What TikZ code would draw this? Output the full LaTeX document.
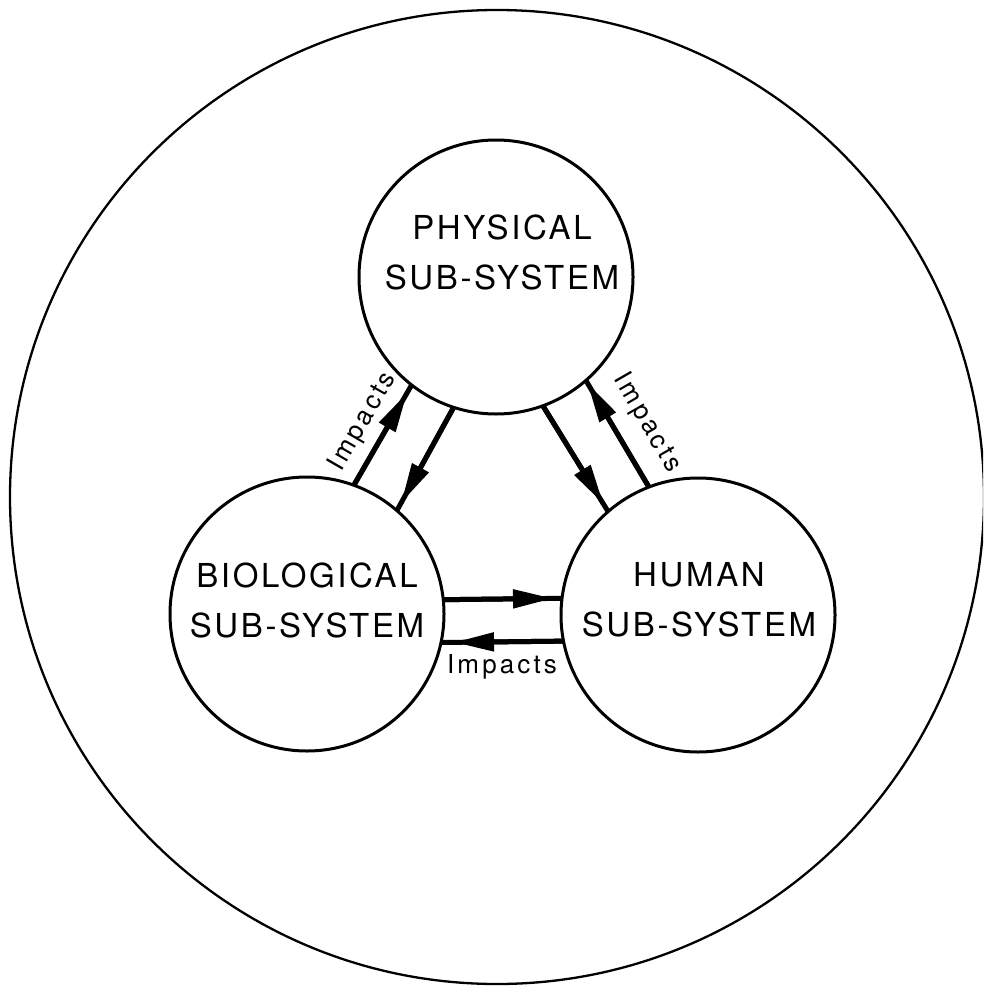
\documentclass[tikz,border=0pt]{standalone}
\usepackage{fontspec}
\setmainfont{TeX Gyre Heros}
\newfontfamily\letterfont[LetterSpace=8]{TeX Gyre Heros}
\newfontfamily\labelfont[LetterSpace=12]{TeX Gyre Heros}
\usetikzlibrary{arrows.meta,calc}

\begin{document}
\begin{tikzpicture}[x=1pt,y=-1pt,
  subsys/.style={circle,draw,line width=3pt,minimum size=274pt,inner sep=0pt,outer sep=0pt},
  caption/.style={font=\letterfont\fontsize{33}{50}\selectfont,align=center,inner sep=0pt},
  impact/.style={font=\labelfont\fontsize{26}{30}\selectfont,inner sep=0pt},
  flow/.style={line width=5pt},
  head/.style={flow,-{Triangle[length=40pt,width=18pt]},shorten >=9pt}]
\useasboundingbox (0,0) rectangle (983,987);

% the enclosing environment
\begin{scope}
  \clip (0,0) rectangle (983,987);
  \node[circle,draw,line width=2.3pt,minimum size=974pt,inner sep=0pt] (world) at (497,497) {};
\end{scope}

% the three sub-systems
\node[subsys] (phys) at (496,277) {};
\node[subsys] (bio)  at (307,614) {};
\node[subsys] (hum)  at (698,615) {};

\node[caption] (physname) at (502,252) {PHYSICAL\\SUB-SYSTEM};
\node[caption] (bioname)  at (307,600) {BIOLOGICAL\\SUB-SYSTEM};
\node[caption] (humname)  at (699,600) {HUMAN\\SUB-SYSTEM};

% physical <-> biological
\draw[flow] (bio.70) -- (phys.232);
\draw[head] (bio.70) -- (phys.232);
\draw[flow] (phys.252) -- (bio.49);
\draw[head] (phys.252) -- (bio.49);

% physical <-> human
\draw[flow] (phys.290) -- (hum.131);
\draw[head] (phys.290) -- (hum.131);
\draw[flow] (hum.111) -- (phys.311);
\draw[head, shorten >=3pt] (hum.111) -- (phys.311);

% biological <-> human
\draw[flow] (bio.6) -- (hum.173);
\draw[head] (bio.6) -- (hum.173);
\draw[flow] (hum.191) -- (bio.-12);
\draw[head, shorten >=13pt] (hum.191) -- (bio.-12);

% labels
\node[impact,rotate=60]  (lblleft)   at (363,422) {Impacts};
\node[impact,rotate=-60] (lblright)  at (647,423) {Impacts};
\node[impact]            (lblbottom) at (502,667) {Impacts};
\end{tikzpicture}
\end{document}
